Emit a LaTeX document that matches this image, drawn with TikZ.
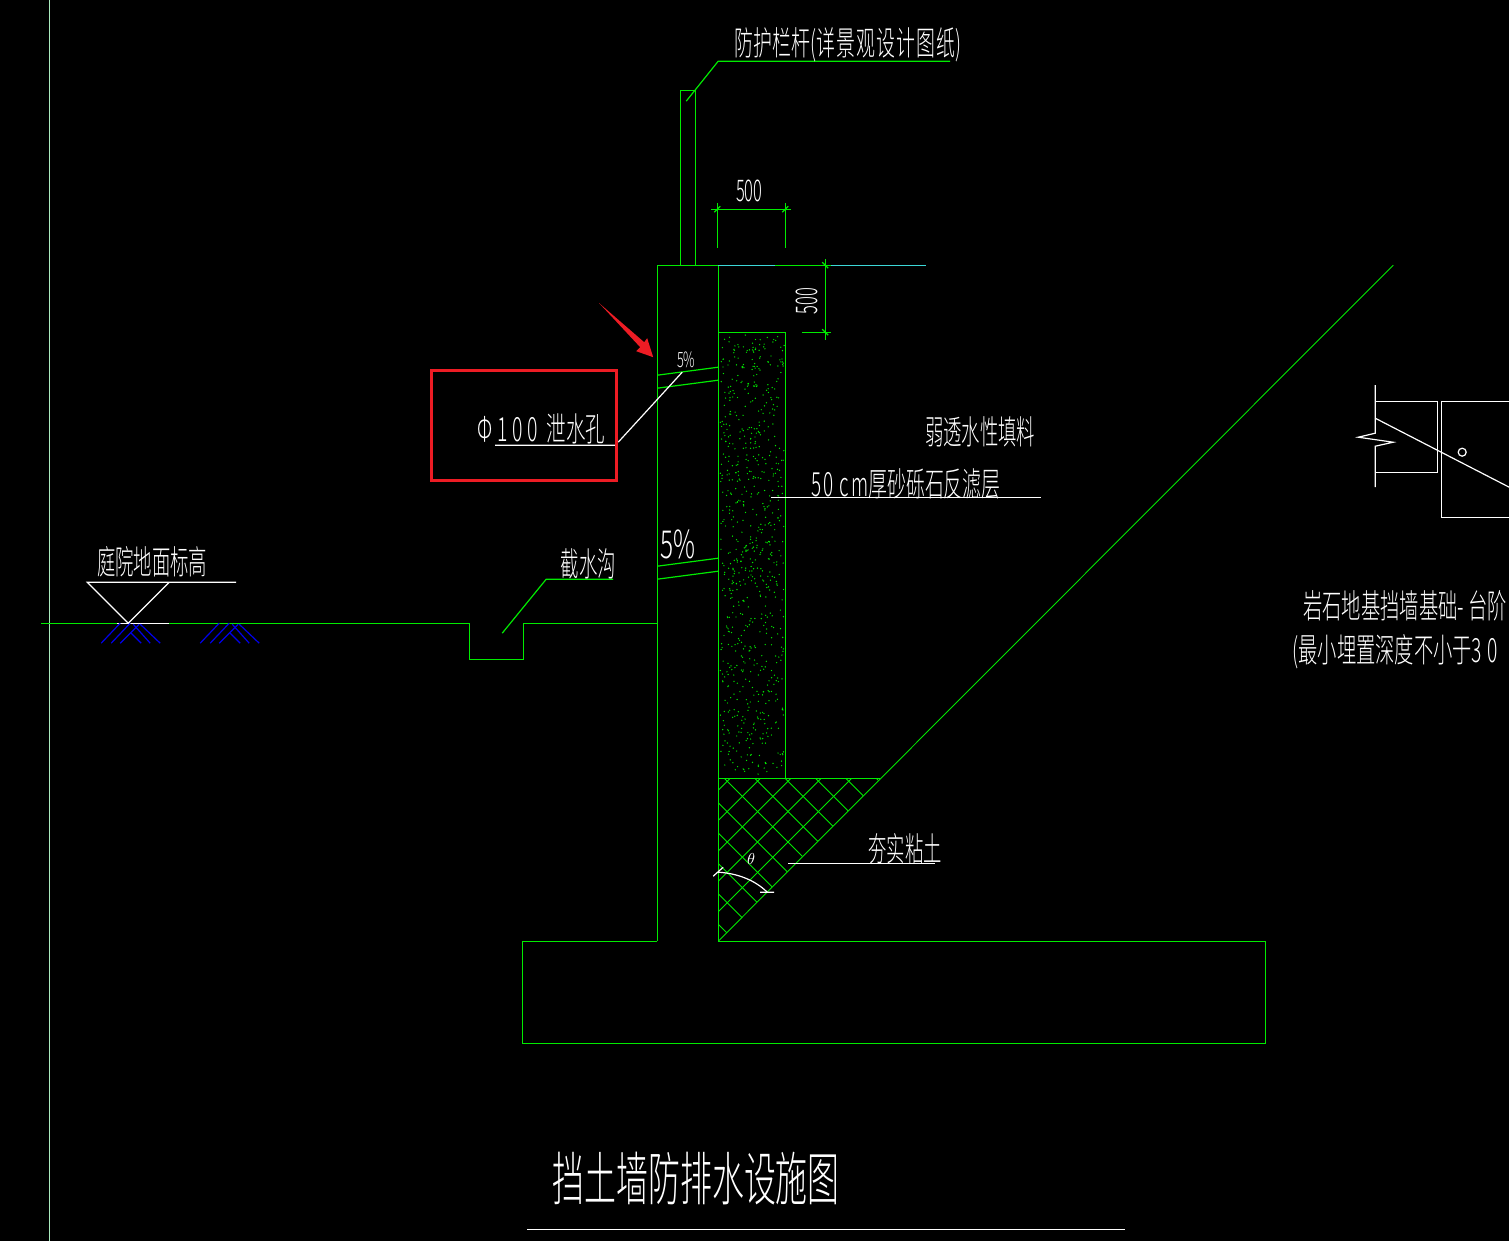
\documentclass[tikz,border=0pt]{standalone}
\usepackage{fontspec}
\usetikzlibrary{calc}
\newfontfamily\cjk{Noto Sans CJK SC Light}
\newcommand{\spaced}[2]{{\addfontfeature{LetterSpace=#1}#2}}
\definecolor{cadgreen}{RGB}{0,235,0}
\definecolor{cadcyan}{RGB}{60,215,215}
\definecolor{cadgray}{RGB}{170,235,190}
\definecolor{cadblue}{RGB}{0,0,235}
\definecolor{cadred}{RGB}{237,28,36}
\tikzset{
  gline/.style={cadgreen,line width=0.68pt},
  wline/.style={white,line width=0.68pt},
  bline/.style={cadblue,line width=0.68pt},
  hatchline/.style={cadgreen,line width=0.5pt},
  cadtext/.style={white,inner sep=0pt,font=\cjk\fontsize{#1}{#1}\selectfont,xscale=0.55},
  cadtext/.default=19
}
\begin{document}
\begin{tikzpicture}[x=0.02cm,y=-0.02cm]
        %底色
        \fill [black] (0,0) rectangle (1509,1241);
        \useasboundingbox (0,0) rectangle (1509,1241);
        \begin{scope}[shift={(0.2,0.2)}]
        \draw [cadgray,line width=0.68pt] (49,0) -- (49,1241);
        %地面线和截水沟
        \draw [gline] (41,623) -- (469,623) -- (469,659) -- (523,659) -- (523,623) -- (657,623);
        %墙身
        \draw [gline] (657,941) -- (657,265) -- (718,265) -- (718,941);
        \draw [gline] (718,265) -- (926,265);
        \draw [cadcyan,line width=0.68pt] (718,265) -- (775,265) (831,265) -- (926,265);
        %基础
        \draw [gline] (657,941) -- (522,941) -- (522,1043) -- (1265,1043) -- (1265,941) -- (718,941);
        %栏杆
        \draw [gline] (680,265) -- (680,90) -- (695,90) -- (695,265);
        \draw [gline] (686,101) -- (718,61) -- (950,61);
        \node [cadtext,xscale=1.03] (railtext) at (848,45) {防护栏杆(\spaced{6}{详景观设计图纸})};
        %尺寸
        \draw [gline] (711,209) -- (791,209) (717,203) -- (717,248) (785,203) -- (785,248);
        \draw [gline] (714,212) -- (720,206) (782,212) -- (788,206);
        \node [cadtext=17] (dimtop) at (749,191) {500};
        \draw [gline] (825,259) -- (825,340) (802,332) -- (831,332);
        \draw [gline] (822,262) -- (828,268) (822,329) -- (828,335);
        \node [rotate=90,cadtext=17] (dimside) at (807,301) {500};
        %泄水管
        \draw [gline] (657,375) -- (718,367) (657,388) -- (718,380);
        \draw [gline] (657,566) -- (718,558) (657,579) -- (718,571);
        \node [cadtext=12,xscale=1.1] (slopeup) at (686,360) {5\%};
        \node [cadtext=22,xscale=1.15] (slopelow) at (678,544) {5\%};
        %反滤层
        \draw [gline] (718,332) -- (785,332) -- (785,778);
        \pgfmathsetseed{37}
        \foreach \i in {1,...,750}
          \fill [cadgreen] ({720+rnd*64},{334+rnd*443}) circle (0.7);
        %夯实粘土
        \begin{scope}
          \clip (718,778) -- (880,778) -- (718,941) -- cycle;
          \foreach \k in {-6,...,6} {
            \draw [hatchline] ({727+30.4*\k-200},581) -- ({727+30.4*\k+200},981);
            \draw [hatchline] ({727+30.4*\k+200},581) -- ({727+30.4*\k-200},981);
          }
        \end{scope}
        \draw [gline] (718,778) -- (880,778);
        \draw [hatchline] (718,941) -- (1393,265);
        \draw [wline] (788,863) -- (935,863);
        \node [cadtext] (claytext) at (905,849) {夯实粘土};
        \draw [wline] (718,872) .. controls (737,873) and (755,880) .. (767,892);
        \draw [wline] (713,876) -- (723,867) (760,892) -- (774,892);
        \node [white,inner sep=0pt,font=\itshape\fontsize{9}{9}\selectfont] (theta) at (751,859) {$\theta$};
        %标注
        \draw [wline] (771,497) -- (1041,497);
        \node [cadtext] (filltext) at (980,432) {弱透水性填料};
        \node [cadtext,xscale=1.03] (filtertext) at (906,484) {\spaced{10}{50 cm}厚砂砾石反滤层};
        \draw [wline] (495,445) -- (615,445) (618,442) -- (682,372);
        \node [cadtext,xscale=1.06] (holetext) at (541,429) {\spaced{25}{Φ100} \ 泄水孔};
        \draw [gline] (502,633) -- (546,579) -- (613,579);
        \node [cadtext] (ditchtext) at (588,564) {截水沟};
        %标高符号
        \draw [wline] (236,582) -- (87,582) -- (128,623) -- (169,582);
        \draw [wline] (117,623) -- (169,623);
        \node [cadtext] (leveltext) at (152,562) {庭院地面标高};
        \foreach \dx in {0,99} {
          \draw [bline] ($(120,623)+(\dx,0)$) -- ($(101,643)+(\dx,0)$);
          \draw [bline] ($(130,623)+(\dx,0)$) -- ($(111,643)+(\dx,0)$);
          \draw [bline] ($(139,624)+(\dx,0)$) -- ($(120,643)+(\dx,0)$);
          \draw [bline] ($(140,624)+(\dx,0)$) -- ($(160,643)+(\dx,0)$);
          \draw [bline] ($(133,624)+(\dx,0)$) -- ($(150,643)+(\dx,0)$);
          \draw [bline] ($(131,633)+(\dx,0)$) -- ($(141,643)+(\dx,0)$);
        }
        %红框和箭头
        \draw [cadred,line width=1.9pt] (431,370) rectangle (616,480);
        \fill [cadred] (599,303) -- (644,342) -- (647,338) -- (653,357) -- (636,351) -- (640,347) -- cycle;
        %右侧大样
        \draw [wline] (1375,385) -- (1375,433) -- (1358,437) -- (1393,442) -- (1375,446) -- (1375,487);
        \draw [wline] (1375,401) -- (1437,401) -- (1437,472) -- (1375,472);
        \draw [wline] (1509,401) -- (1441,401) -- (1441,517) -- (1509,517);
        \draw [wline] (1375,418) -- (1509,487);
        \draw [wline] (1462,452) circle (4);
        \node [cadtext,xscale=1.05,anchor=west] (rocktext) at (1303,606) {岩石地基挡墙基础- 台阶};
        \node [cadtext,xscale=1.05,anchor=west] (depthtext) at (1292,652) {(最小埋置深度不小于\spaced{25}{30}};
        %图名
        \node [cadtext=33] (titletext) at (696,1178) {挡土墙防排水设施图};
        \draw [wline] (527,1229) -- (1125,1229);
        \end{scope}
    \end{tikzpicture}
\end{document}
